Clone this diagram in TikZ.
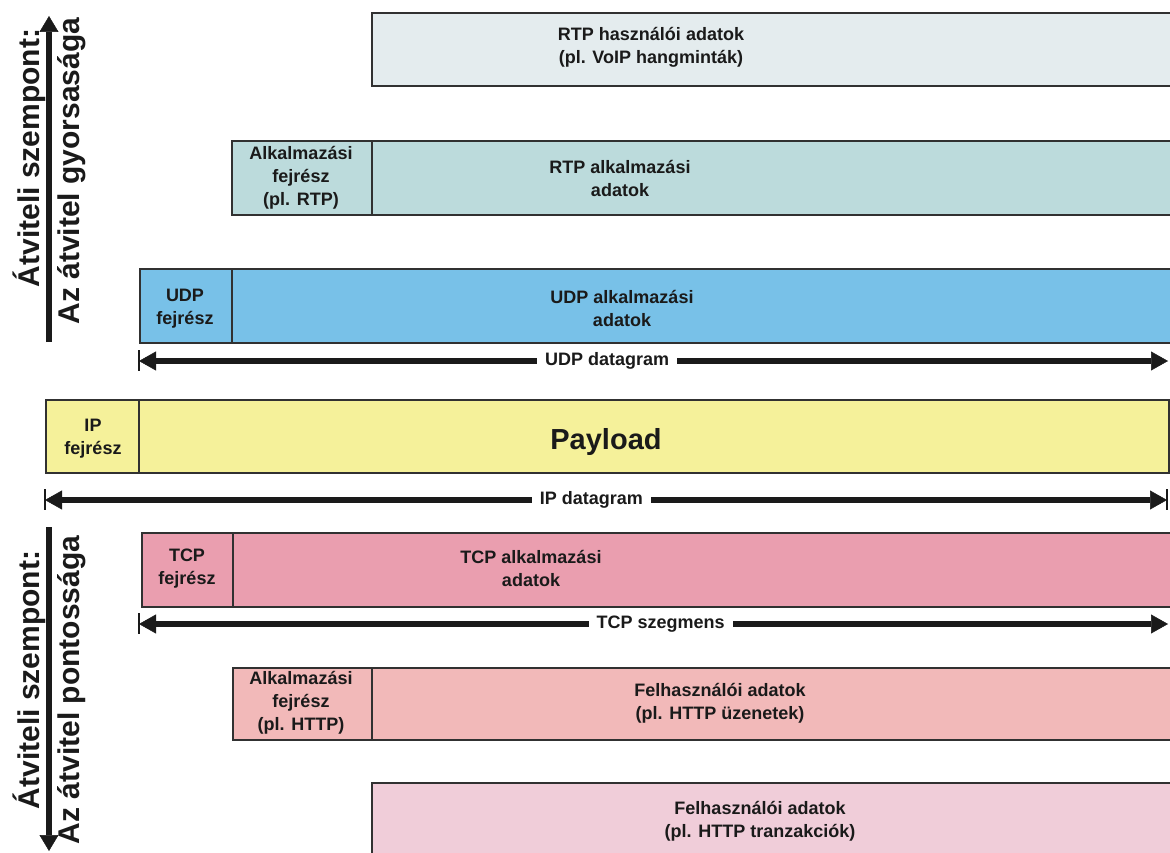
\documentclass[tikz,border=0pt]{standalone}
\usepackage{fontspec}
\setmainfont{Liberation Sans}
\usetikzlibrary{arrows.meta}
\definecolor{c1}{HTML}{E4ECEE}
\definecolor{c2}{HTML}{BCDBDC}
\definecolor{c3}{HTML}{78C1E8}
\definecolor{c4}{HTML}{F5F19A}
\definecolor{c5}{HTML}{EA9EAF}
\definecolor{c6}{HTML}{F2B9B9}
\definecolor{c7}{HTML}{F0CDD9}
\definecolor{ink}{HTML}{1A1A1A}
\begin{document}
\begin{tikzpicture}[x=1pt,y=-1pt,
  box/.style={draw=ink!90, line width=1.6pt, inner sep=0pt, anchor=north west},
  txt/.style={font=\bfseries\fontsize{18}{23}\selectfont, align=center, inner sep=0pt, text=ink},
  bigtxt/.style={font=\bfseries\fontsize{29}{30}\selectfont, inner sep=0pt, text=ink},
  sidetxt/.style={font=\bfseries\fontsize{30}{31}\selectfont, inner sep=0pt, text=ink, rotate=90},
  lbl/.style={font=\bfseries\fontsize{18}{19}\selectfont, fill=white, inner xsep=8pt, inner ysep=3pt, text=ink},
  harrow/.style={draw=ink, line width=6pt,
    {Triangle[length=17pt,width=19pt,line width=0.5pt]}-{Triangle[length=17pt,width=19pt,line width=0.5pt]}},
  varrow/.style={draw=ink, line width=6pt, -{Triangle[length=16pt,width=19pt,line width=0.5pt]}},
  tick/.style={draw=ink, line width=1.2pt}
]
\useasboundingbox (0,0) rectangle (1170,853);
\clip (0,0) rectangle (1170,853);

% RTP user data
\node[box, fill=c1, minimum width=830pt, minimum height=73pt] (d1) at (371,12) {};
\node[txt] (t1) at (651,47) {RTP használói adatok\\(pl. VoIP hangminták)};

% RTP layer
\node[box, fill=c2, minimum width=140pt, minimum height=74pt] (h2) at (231,140) {};
\node[box, fill=c2, minimum width=830pt, minimum height=74pt] (d2) at (371,140) {};
\node[txt] (th2) at (301,178) {Alkalmazási\\fejrész\\(pl. RTP)};
\node[txt] (t2) at (620,178) {RTP alkalmazási\\adatok};

% UDP layer
\node[box, fill=c3, minimum width=92pt, minimum height=74pt] (h3) at (139,268) {};
\node[box, fill=c3, minimum width=960pt, minimum height=74pt] (d3) at (231,268) {};
\node[txt] (th3) at (185,309) {UDP\\fejrész};
\node[txt] (t3) at (622,308) {UDP alkalmazási\\adatok};

% UDP datagram arrow
\coordinate (uL) at (139,361);
\coordinate (uR) at (1168,361);
\draw[tick] (139,350) -- (139,371);
\draw[harrow] (uL) -- (uR) node[lbl, pos=0.455] (ul) {UDP datagram};

% IP layer
\node[box, fill=c4, minimum width=93pt, minimum height=73pt] (h4) at (45,399) {};
\node[box, fill=c4, minimum width=1030pt, minimum height=73pt] (d4) at (138,399) {};
\node[txt] (th4) at (93,439) {IP\\fejrész};
\node[bigtxt] (t4) at (606,442) {Payload};

% IP datagram arrow
\coordinate (iL) at (45,500);
\coordinate (iR) at (1167,500);
\draw[tick] (45,489) -- (45,510);
\draw[tick] (1167,489) -- (1167,510);
\draw[harrow] (iL) -- (iR) node[lbl, pos=0.487] (il) {IP datagram};

% TCP layer
\node[box, fill=c5, minimum width=91pt, minimum height=74pt] (h5) at (141,532) {};
\node[box, fill=c5, minimum width=960pt, minimum height=74pt] (d5) at (232,532) {};
\node[txt] (th5) at (187,569) {TCP\\fejrész};
\node[txt] (t5) at (531,568) {TCP alkalmazási\\adatok};

% TCP szegmens arrow
\coordinate (tL) at (139,624);
\coordinate (tR) at (1168,624);
\draw[tick] (139,613) -- (139,634);
\draw[harrow] (tL) -- (tR) node[lbl, pos=0.507] (tl) {TCP szegmens};

% HTTP layer
\node[box, fill=c6, minimum width=139pt, minimum height=72pt] (h6) at (232,667) {};
\node[box, fill=c6, minimum width=830pt, minimum height=72pt] (d6) at (371,667) {};
\node[txt] (th6) at (301,703) {Alkalmazási\\fejrész\\(pl. HTTP)};
\node[txt] (t6) at (720,703) {Felhasználói adatok\\(pl. HTTP üzenetek)};

% HTTP transactions
\node[box, fill=c7, minimum width=830pt, minimum height=100pt] (d7) at (371,782) {};
\node[txt] (t7) at (760,821) {Felhasználói adatok\\(pl. HTTP tranzakciók)};

% side arrows
\coordinate (a1s) at (49,342);
\coordinate (a1e) at (49,16);
\draw[varrow] (a1s) -- (a1e);
\node[sidetxt] (s1) at (29,158) {Átviteli szempont:};
\node[sidetxt] (s2) at (72,171) {Az átvitel gyorsasága};

\coordinate (a2s) at (49,527);
\coordinate (a2e) at (49,851);
\draw[varrow] (a2s) -- (a2e);
\node[sidetxt] (s3) at (29,680) {Átviteli szempont:};
\node[sidetxt] (s4) at (72,690) {Az átvitel pontossága};
\end{tikzpicture}
\end{document}
